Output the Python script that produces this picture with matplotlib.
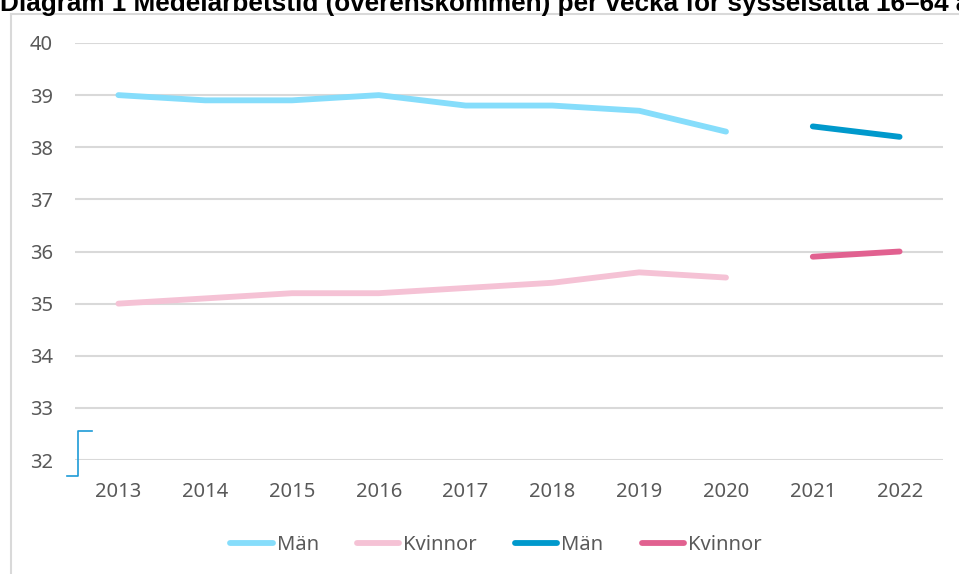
import matplotlib.pyplot as plt
from matplotlib.lines import Line2D

years = ["2013", "2014", "2015", "2016", "2017", "2018", "2019", "2020", "2021", "2022"]
man_old = [39.0, 38.9, 38.9, 39.0, 38.8, 38.8, 38.7, 38.3]
kvinnor_old = [35.0, 35.1, 35.2, 35.2, 35.3, 35.4, 35.6, 35.5]
man_new = [38.4, 38.2]
kvinnor_new = [35.9, 36.0]

plt.rcParams["font.family"] = ["Noto Sans", "DejaVu Sans"]

fig = plt.figure(figsize=(9.59, 5.74), dpi=100)
ax = fig.add_axes([75 / 959, 1 - 460 / 574, 868 / 959, 417 / 574])

x_old = list(range(len(man_old)))
x_new = list(range(len(man_old), len(years)))
lw = 4.2
ax.plot(x_old, man_old, color="#86DDFB", lw=lw, solid_capstyle="round", label="Män")
ax.plot(x_old, kvinnor_old, color="#F5C2D5", lw=lw, solid_capstyle="round", label="Kvinnor")
ax.plot(x_new, man_new, color="#0099CC", lw=lw, solid_capstyle="round", label="Män")
ax.plot(x_new, kvinnor_new, color="#E16190", lw=lw, solid_capstyle="round", label="Kvinnor")

ax.set_xlim(-0.5, len(years) - 0.5)
ax.set_ylim(32, 40)
ax.set_xticks(range(len(years)))
ax.set_xticklabels(years)
ax.set_yticks(range(32, 41))
ax.grid(axis="y", color="#D9D9D9", lw=1.5)
ax.set_axisbelow(True)
for s in ax.spines.values():
    s.set_visible(False)
ax.tick_params(length=0, labelsize=14.5, labelcolor="#595959")
ax.tick_params(axis="x", pad=16)
ax.tick_params(axis="y", pad=16)

fig.legend(loc="center", bbox_to_anchor=(496 / 959, 1 - 545 / 574), ncol=4, frameon=False,
           fontsize=14.5, labelcolor="#595959", handlelength=2.1, handletextpad=0.2,
           columnspacing=1.9)

# chart frame
fig.add_artist(Line2D([11 / 959, 11 / 959], [0, 1 - 14 / 574], color="#D9D9D9", lw=1.5))
fig.add_artist(Line2D([11 / 959, 1], [1 - 14 / 574, 1 - 14 / 574], color="#D9D9D9", lw=1.5))
# small bracket marker
fig.add_artist(Line2D([67 / 959, 78 / 959, 78 / 959, 92 / 959],
                      [1 - 476 / 574, 1 - 476 / 574, 1 - 431 / 574, 1 - 431 / 574],
                      color="#1E9BD7", lw=1.2))

fig.text(0.0, 1 - 11 / 574, "Diagram 1 Medelarbetstid (överenskommen) per vecka för sysselsatta 16–64 år",
         family="Liberation Sans", weight="bold", fontsize=18.8, va="baseline", ha="left")

fig.savefig("out.png", dpi=100)
